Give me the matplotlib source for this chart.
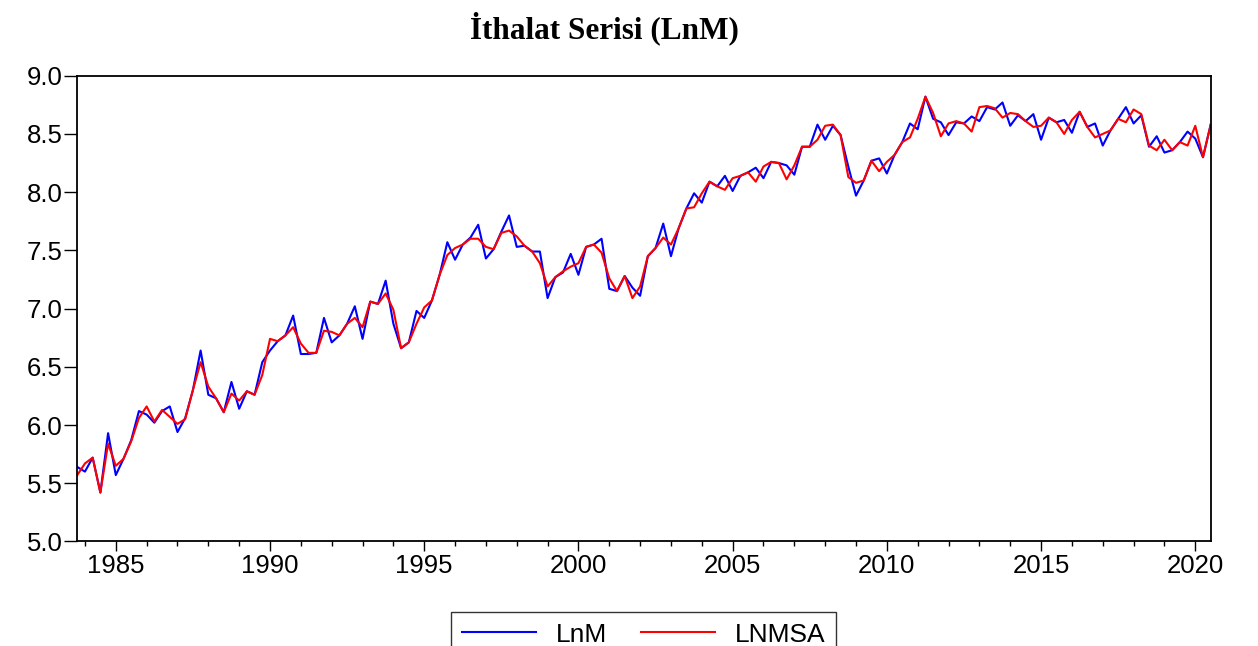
import numpy as np
import matplotlib
matplotlib.use("Agg")
import matplotlib.pyplot as plt
from matplotlib.ticker import MultipleLocator

# quarterly observations, first one a quarter before the 1984 tick
start_year = 1983.75
step = 0.25

lnm = [5.64, 5.60, 5.72, 5.42, 5.93, 5.57, 5.71, 5.87, 6.12, 6.09,
       6.02, 6.12, 6.16, 5.94, 6.06, 6.30, 6.64, 6.26, 6.23, 6.11,
       6.37, 6.14, 6.29, 6.26, 6.54, 6.64, 6.72, 6.77, 6.94, 6.61,
       6.61, 6.62, 6.92, 6.71, 6.77, 6.87, 7.02, 6.74, 7.06, 7.04,
       7.24, 6.87, 6.66, 6.71, 6.98, 6.92, 7.07, 7.29, 7.57, 7.42,
       7.55, 7.61, 7.72, 7.43, 7.51, 7.66, 7.80, 7.53, 7.54, 7.49,
       7.49, 7.09, 7.27, 7.31, 7.47, 7.29, 7.53, 7.55, 7.60, 7.17,
       7.15, 7.28, 7.18, 7.11, 7.45, 7.52, 7.73, 7.45, 7.69, 7.86,
       7.99, 7.91, 8.09, 8.05, 8.14, 8.01, 8.14, 8.17, 8.21, 8.12,
       8.26, 8.25, 8.23, 8.15, 8.39, 8.39, 8.58, 8.45, 8.57, 8.49,
       8.22, 7.97, 8.10, 8.27, 8.29, 8.16, 8.32, 8.43, 8.59, 8.54,
       8.82, 8.63, 8.60, 8.49, 8.60, 8.59, 8.65, 8.61, 8.73, 8.71,
       8.77, 8.57, 8.66, 8.61, 8.67, 8.45, 8.64, 8.60, 8.62, 8.51,
       8.69, 8.56, 8.59, 8.40, 8.53, 8.63, 8.73, 8.59, 8.66, 8.39,
       8.48, 8.34, 8.36, 8.43, 8.52, 8.46, 8.30, 8.58]

lnmsa = [5.57, 5.67, 5.72, 5.42, 5.84, 5.65, 5.71, 5.86, 6.06, 6.16,
         6.03, 6.13, 6.07, 6.01, 6.05, 6.30, 6.54, 6.33, 6.23, 6.11,
         6.27, 6.21, 6.29, 6.26, 6.43, 6.74, 6.72, 6.77, 6.84, 6.70,
         6.62, 6.62, 6.81, 6.80, 6.77, 6.87, 6.92, 6.84, 7.06, 7.04,
         7.13, 6.99, 6.66, 6.71, 6.87, 7.01, 7.07, 7.29, 7.46, 7.52,
         7.55, 7.60, 7.60, 7.53, 7.51, 7.65, 7.67, 7.62, 7.54, 7.49,
         7.39, 7.19, 7.27, 7.32, 7.36, 7.39, 7.53, 7.55, 7.48, 7.26,
         7.15, 7.28, 7.09, 7.19, 7.45, 7.52, 7.61, 7.55, 7.69, 7.86,
         7.87, 7.99, 8.09, 8.05, 8.02, 8.12, 8.14, 8.17, 8.09, 8.22,
         8.26, 8.25, 8.11, 8.23, 8.39, 8.39, 8.45, 8.57, 8.58, 8.49,
         8.13, 8.08, 8.10, 8.27, 8.18, 8.26, 8.32, 8.43, 8.47, 8.63,
         8.82, 8.68, 8.48, 8.59, 8.61, 8.59, 8.52, 8.73, 8.74, 8.72,
         8.64, 8.68, 8.67, 8.61, 8.56, 8.57, 8.64, 8.60, 8.50, 8.62,
         8.69, 8.56, 8.47, 8.50, 8.53, 8.63, 8.60, 8.71, 8.67, 8.40,
         8.36, 8.45, 8.36, 8.43, 8.40, 8.57, 8.30, 8.58]

labels = ["LnM", "LNMSA"]
title = "İthalat Serisi (LnM)"

t = start_year + step * np.arange(len(lnm))

plt.rcParams["font.family"] = ["Liberation Sans", "DejaVu Sans"]

fig = plt.figure(figsize=(12.58, 6.46), dpi=100)
ax = fig.add_axes([0.0614, 0.1618, 0.9010, 0.7210])

ax.plot(t, lnm, color="#0000ff", lw=1.5, label=labels[0])
ax.plot(t, lnmsa, color="#ff0000", lw=1.5, label=labels[1])

ax.set_xlim(t[0], t[-1])
ax.set_ylim(5.0, 9.0)
ax.yaxis.set_major_locator(MultipleLocator(0.5))
ax.yaxis.set_major_formatter(matplotlib.ticker.FormatStrFormatter("%.1f"))
ax.xaxis.set_major_locator(MultipleLocator(5))
ax.xaxis.set_minor_locator(MultipleLocator(1))

ax.tick_params(axis="y", direction="out", length=9.5, width=1, pad=1, labelsize=18.5,
               right=False)
ax.tick_params(axis="x", which="major", direction="out", length=7.2, width=1, pad=2,
               labelsize=18.5)
ax.tick_params(axis="x", which="minor", direction="out", length=3.6, width=1)
for s in ax.spines.values():
    s.set_linewidth(1.3)

fig.text(604 / 1258, 1 - 28 / 646, title, ha="center", va="center",
         fontsize=22.5, fontweight="bold", family=["Liberation Serif", "DejaVu Serif"])

leg = fig.legend(loc="upper center", bbox_to_anchor=(0.5115, 1 - 612 / 646), ncol=2,
                 fontsize=19, frameon=True, fancybox=False, edgecolor="black",
                 handlelength=2.8, handletextpad=0.75, columnspacing=1.3,
                 borderpad=0.4, borderaxespad=0)
leg.get_frame().set_linewidth(1.0)

fig.savefig("out.png", dpi=100)
plt.close(fig)
